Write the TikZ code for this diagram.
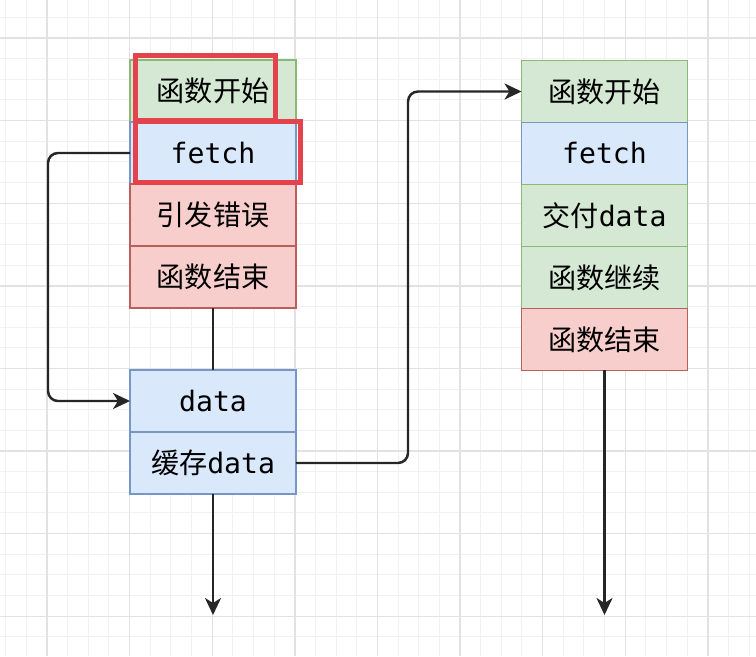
\documentclass[tikz,border=0pt]{standalone}
\usepackage{fontspec}
\setmainfont{DejaVu Sans Mono}
\newfontfamily\cjk{Noto Sans CJK SC}
\usetikzlibrary{positioning,arrows.meta}
\definecolor{greenfill}{RGB}{213,232,212}
\definecolor{greenline}{RGB}{140,184,118}
\definecolor{bluefill}{RGB}{218,232,252}
\definecolor{blueline}{RGB}{118,150,196}
\definecolor{redfill}{RGB}{248,206,204}
\definecolor{redline}{RGB}{184,96,92}
\definecolor{markred}{RGB}{228,66,76}
\definecolor{gridminor}{RGB}{241,241,241}
\definecolor{gridmajor}{RGB}{226,226,226}
\begin{document}
\begin{tikzpicture}[x=0.02cm,y=-0.02cm,
    cell/.style = {draw,line width=0.8pt,minimum width=3.32cm,minimum height=1.24cm,
                   inner sep=0pt,outer sep=0pt,font=\fontsize{16}{19}\selectfont},
    gcell/.style = {cell,fill=greenfill,draw=greenline},
    bcell/.style = {cell,fill=bluefill,draw=blueline},
    rcell/.style = {cell,fill=redfill,draw=redline},
    arrow/.style = {line width=1.4pt,draw=black!85,
                    -{Stealth[length=0.34cm,width=0.32cm,inset=0.1cm]}},
    flow/.style = {line width=1.4pt,draw=black!85},
    markbox/.style = {draw=markred,line width=3.3pt}]
    \useasboundingbox (0,0) rectangle (756,656);
    \fill[white] (0,0) rectangle (756,656);

    % background grid
    \foreach \i in {0,...,37} {
        \draw[gridminor,line width=0.6pt] (5.7+20.65*\i,0) -- (5.7+20.65*\i,656);
    }
    \foreach \i in {0,...,32} {
        \draw[gridminor,line width=0.6pt] (0,-3.3+20.65*\i) -- (756,-3.3+20.65*\i);
    }
    \foreach \i in {0,...,9} {
        \draw[gridmajor,line width=0.8pt] (47+82.6*\i,0) -- (47+82.6*\i,656);
    }
    \foreach \i in {0,...,7} {
        \draw[gridmajor,line width=0.8pt] (0,38+82.6*\i) -- (756,38+82.6*\i);
    }

    % first call
    \node [gcell] (start1) at (213,91) {{\cjk 函数开始}};
    \node [bcell, below=0pt of start1] (fetch1) {fetch};
    \node [rcell, below=0pt of fetch1] (error1) {{\cjk 引发错误}};
    \node [rcell, below=0pt of error1] (end1) {{\cjk 函数结束}};

    \node [bcell] (data) at (213,401) {data};
    \node [bcell, below=0pt of data] (cache) {{\cjk 缓存}data};

    % second call
    \node [gcell] (start2) at (604.5,91.5) {{\cjk 函数开始}};
    \node [bcell, below=0pt of start2] (fetch2) {fetch};
    \node [gcell, below=0pt of fetch2] (deliver2) {{\cjk 交付}data};
    \node [gcell, below=0pt of deliver2] (cont2) {{\cjk 函数继续}};
    \node [rcell, below=0pt of cont2] (end2) {{\cjk 函数结束}};

    % highlight frames
    \draw[markbox] (135.5,55.5) rectangle (275.5,121);
    \draw[markbox] (135.5,121.5) rectangle (300.5,182.5);

    \coordinate (loopL) at (48,153);
    \coordinate (bendR) at (408,462);
    \coordinate (out1) at (213,615);
    \coordinate (out2) at (604.5,615);

    \draw[flow] (end1) -- (data);
    \draw[arrow,rounded corners=0.2cm] (fetch1.west) -- (fetch1.west -| loopL) |- (data.west);
    \draw[arrow,rounded corners=0.2cm] (cache.east) -- (cache.east -| bendR) |- (start2.west);
    \draw[arrow] (cache.south) -- (out1);
    \draw[arrow] (end2.south) -- (out2);
\end{tikzpicture}
\end{document}
